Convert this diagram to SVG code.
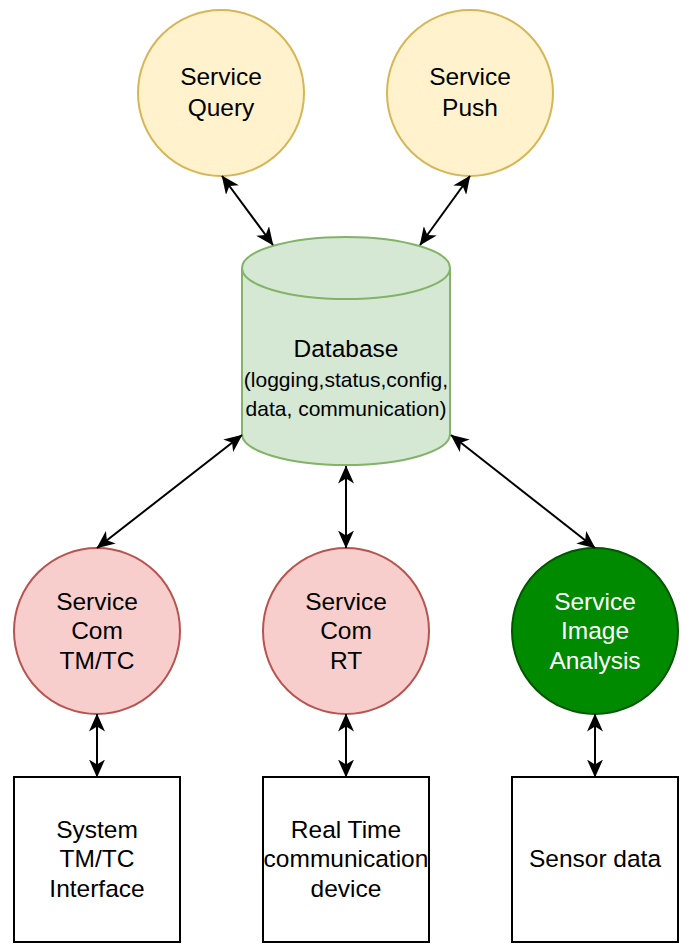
<svg xmlns="http://www.w3.org/2000/svg" width="687" height="944" viewBox="0 0 687 944">
<style>
text{font-family:"Liberation Sans",Arial,sans-serif;font-size:24.5px;text-anchor:middle;fill:#000}
.y{fill:#fff2cc;stroke:#d6b656;stroke-width:2}
.r{fill:#f8cecc;stroke:#b85450;stroke-width:2}
.g{fill:#008a00;stroke:#005700;stroke-width:2}
.db{fill:#d5e8d4;stroke:#82b366;stroke-width:2}
.b{fill:#fff;stroke:#000;stroke-width:2}
.c line{stroke:#000;stroke-width:2;marker-start:url(#a);marker-end:url(#a)}
.w{fill:#fff}
.s{font-size:21px}
</style>
<defs>
<marker id="a" viewBox="0 0 18 16" refX="17.5" refY="8" markerWidth="18" markerHeight="16" markerUnits="userSpaceOnUse" orient="auto-start-reverse">
<path d="M0,0 L18,8 L0,16 L5,8 Z" fill="#000"/>
</marker>
</defs>
<rect width="687" height="944" fill="#fff"/>
<g id="query"><circle class="y" cx="221" cy="93" r="83"/><text x="221" y="85">Service</text><text x="221" y="116">Query</text></g>
<g id="push"><circle class="y" cx="470" cy="93" r="83"/><text x="470" y="85">Service</text><text x="470" y="116">Push</text></g>
<g id="database">
<path class="db" d="M242,268 A104,31 0 0 1 450,268 L450,434 A104,31 0 0 1 242,434 Z"/>
<path class="db" fill="none" d="M242,268 A104,31 0 0 0 450,268"/>
<text x="346" y="357">Database</text>
<text class="s" x="346" y="387">(logging,status,config,</text>
<text class="s" x="346" y="416">data, communication)</text>
</g>
<g id="comtmtc"><circle class="r" cx="97" cy="631" r="83"/><text x="97" y="610">Service</text><text x="97" y="639">Com</text><text x="97" y="669">TM/TC</text></g>
<g id="comrt"><circle class="r" cx="346" cy="631" r="83"/><text x="346" y="610">Service</text><text x="346" y="639">Com</text><text x="346" y="669">RT</text></g>
<g id="image"><circle class="g" cx="595" cy="631" r="83"/><text class="w" x="595" y="610">Service</text><text class="w" x="595" y="639">Image</text><text class="w" x="595" y="669">Analysis</text></g>
<g id="systmtc"><rect class="b" x="14" y="777" width="166" height="165"/><text x="97" y="838">System</text><text x="97" y="867">TM/TC</text><text x="97" y="897">Interface</text></g>
<g id="rtdevice"><rect class="b" x="263" y="777" width="166" height="165"/><text x="346" y="838">Real Time</text><text x="346" y="867">communication</text><text x="346" y="897">device</text></g>
<g id="sensor"><rect class="b" x="512" y="777" width="166" height="165"/><text x="595" y="867">Sensor data</text></g>
<g id="connectors" class="c">
<line x1="222" y1="176" x2="273" y2="245"/>
<line x1="470" y1="176" x2="420" y2="245"/>
<line x1="242" y1="435" x2="97" y2="548"/>
<line x1="346" y1="466" x2="346" y2="548"/>
<line x1="451" y1="435" x2="595" y2="548"/>
<line x1="97" y1="714" x2="97" y2="777"/>
<line x1="346" y1="714" x2="346" y2="777"/>
<line x1="595" y1="714" x2="595" y2="777"/>
</g>
</svg>
